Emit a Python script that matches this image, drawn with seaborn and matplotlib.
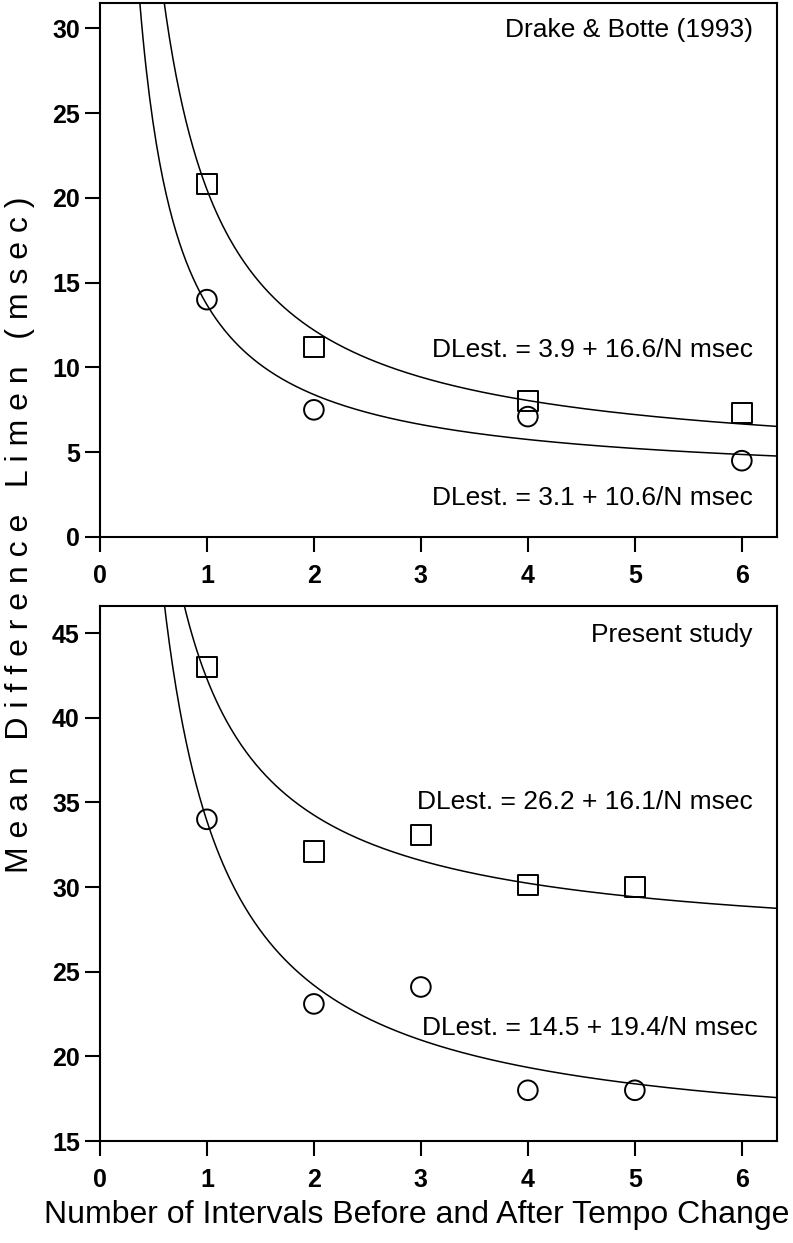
import numpy as np
import pandas as pd
import matplotlib
matplotlib.use("Agg")
import matplotlib.pyplot as plt
import seaborn as sns

# -----------------------------------------------------
# data
# -----------------------------------------------------
top_n = [1, 2, 4, 6]
top_squares = [20.8, 11.2, 8.0, 7.3]
top_circles = [14.0, 7.5, 7.1, 4.5]

bot_n = [1, 2, 3, 4, 5]
bot_squares = [43.0, 32.1, 33.1, 30.1, 30.0]
bot_circles = [34.0, 23.1, 24.1, 18.0, 18.0]

# fitted DLest = a + b/N (from the printed equations)
top_fit_sq = (3.9, 16.6)
top_fit_ci = (3.1, 10.6)
bot_fit_sq = (26.2, 16.1)
bot_fit_ci = (14.5, 19.4)

x_ticks = [0, 1, 2, 3, 4, 5, 6]
top_yticks = [0, 5, 10, 15, 20, 25, 30]
bot_yticks = [15, 20, 25, 30, 35, 40, 45]

sns.set_theme(style="ticks")
plt.rcParams['font.family'] = ['Liberation Sans', 'DejaVu Sans']
plt.rcParams['text.color'] = 'black'

fig = plt.figure(figsize=(7.93, 12.43), dpi=100)
ax_top = fig.add_axes([0.126, 0.568, 0.854, 0.4296])
ax_bot = fig.add_axes([0.126, 0.082, 0.854, 0.4305])

n_grid = np.linspace(0.2, 6.4, 400)


def draw_panel(ax, n, sq, ci, fit_sq, fit_ci, ylim, yticks):
    for a, b in (fit_sq, fit_ci):
        curve = pd.DataFrame({'n': n_grid, 'dl': a + b / n_grid})
        sns.lineplot(data=curve, x='n', y='dl', color='black', lw=1.1,
                     estimator=None, sort=False, ax=ax)
    sns.scatterplot(x=n, y=sq, marker='s', s=210, facecolors='none',
                    edgecolors='black', linewidth=1.4, ax=ax, zorder=3)
    sns.scatterplot(x=n, y=ci, marker='o', s=200, facecolors='none',
                    edgecolors='black', linewidth=1.4, ax=ax, zorder=3)
    ax.set_xlim(0, 6.33)
    ax.set_ylim(*ylim)
    ax.set_xticks(x_ticks)
    ax.set_yticks(yticks)
    ax.set_xlabel('')
    ax.set_ylabel('')
    for s in ax.spines.values():
        s.set_linewidth(1.5)
        s.set_color('black')
    ax.tick_params(axis='both', length=10.5, width=1.5, colors='black',
                   labelsize=18, direction='out')
    ax.tick_params(axis='x', pad=9)
    ax.tick_params(axis='y', pad=4)
    for lab in ax.get_xticklabels() + ax.get_yticklabels():
        lab.set_fontweight('bold')


draw_panel(ax_top, top_n, top_squares, top_circles, top_fit_sq, top_fit_ci,
           (0, 31.5), top_yticks)
draw_panel(ax_bot, bot_n, bot_squares, bot_circles, bot_fit_sq, bot_fit_ci,
           (15, 46.6), bot_yticks)

# panel labels and equations
ax_top.text(6.1, 29.9, 'Drake & Botte (1993)', ha='right', va='center', fontsize=19)
ax_top.text(6.1, 11.05, 'DLest. = 3.9 + 16.6/N msec', ha='right', va='center', fontsize=19)
ax_top.text(6.1, 2.3, 'DLest. = 3.1 + 10.6/N msec', ha='right', va='center', fontsize=19)

ax_bot.text(6.1, 44.9, 'Present study', ha='right', va='center', fontsize=19)
ax_bot.text(6.1, 35.0, 'DLest. = 26.2 + 16.1/N msec', ha='right', va='center', fontsize=19)
ax_bot.text(6.15, 21.7, 'DLest. = 14.5 + 19.4/N msec', ha='right', va='center', fontsize=19)

fig.text(0.525, 0.0225, 'Number of Intervals Before and After Tempo Change',
         ha='center', va='center', fontsize=23)
fig.text(0.025, 0.57, 'M e a n   D i f f e r e n c e   L i m e n   ( m s e c )',
         rotation=90, ha='center', va='center', fontsize=23)

fig.savefig('out.png', dpi=100)
